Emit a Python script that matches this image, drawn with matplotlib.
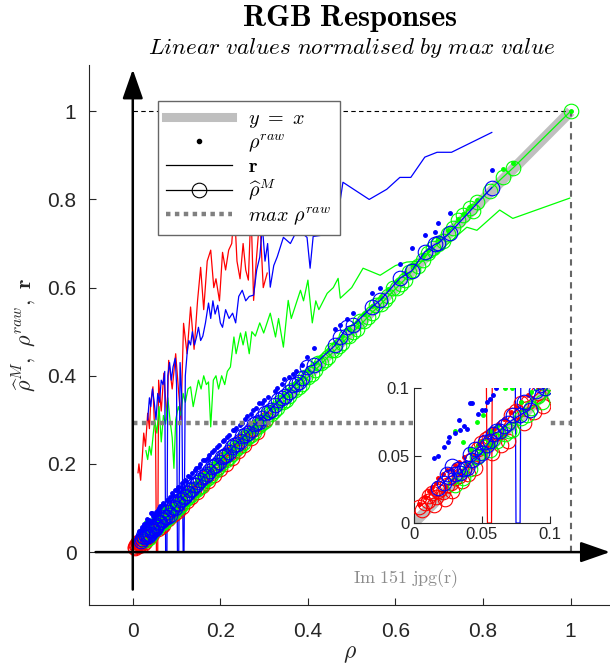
import numpy as np
import matplotlib.pyplot as plt
from matplotlib.lines import Line2D

plt.rcParams['mathtext.fontset'] = 'cm'
plt.rcParams['font.family'] = ['Liberation Sans', 'DejaVu Sans']

# --- red channel: rho, rho-hat (circles), rho-raw (dots) ---
red_rho = [0.004, 0.008, 0.011, 0.013, 0.016, 0.018, 0.021, 0.024, 0.027, 0.030, 0.033, 0.037,
           0.042, 0.047, 0.049, 0.053, 0.055, 0.059, 0.062, 0.066, 0.071, 0.075, 0.079, 0.084,
           0.091, 0.099, 0.107, 0.118, 0.128, 0.140, 0.153, 0.166, 0.179, 0.193, 0.206, 0.219,
           0.233, 0.247, 0.262, 0.277, 0.291, 0.305]
red_hat = [0.012, 0.015, 0.020, 0.022, 0.019, 0.024, 0.023, 0.028, 0.030, 0.033, 0.035, 0.040,
           0.047, 0.055, 0.059, 0.062, 0.064, 0.066, 0.067, 0.072, 0.080, 0.083, 0.089, 0.090,
           0.096, 0.104, 0.110, 0.121, 0.130, 0.142, 0.151, 0.168, 0.180, 0.190, 0.208, 0.222,
           0.231, 0.250, 0.260, 0.279, 0.290, 0.302]
red_raw = [0.014, 0.019, 0.024, 0.027, 0.030, 0.033, 0.036, 0.039, 0.040, 0.043, 0.045, 0.049,
           0.054, 0.058, 0.061, 0.064, 0.067, 0.070, 0.073, 0.077, 0.082, 0.086, 0.090, 0.095,
           0.101, 0.109, 0.117, 0.128, 0.138, 0.150, 0.162, 0.176, 0.188, 0.202, 0.215, 0.228,
           0.242, 0.256, 0.271, 0.286, 0.300, 0.314]
# further red circles hidden in the dense band
red_more_x = [0.006, 0.010, 0.015, 0.019, 0.023, 0.028, 0.035, 0.040, 0.045, 0.057, 0.064, 0.069,
              0.081, 0.088, 0.095, 0.103, 0.112, 0.123, 0.134, 0.146, 0.159, 0.172, 0.186, 0.199,
              0.212, 0.226, 0.240, 0.255, 0.269, 0.284]
red_more_y = [0.010, 0.016, 0.013, 0.025, 0.018, 0.024, 0.031, 0.036, 0.041, 0.052, 0.058, 0.061,
              0.074, 0.082, 0.087, 0.094, 0.103, 0.115, 0.125, 0.136, 0.150, 0.162, 0.176, 0.189,
              0.200, 0.214, 0.229, 0.244, 0.258, 0.272]
# red r line
red_r_x = [0.012, 0.014, 0.018, 0.022, 0.025, 0.029, 0.034, 0.038, 0.041, 0.046, 0.049, 0.052,
           0.054, 0.057, 0.059, 0.065, 0.071, 0.078, 0.082, 0.090, 0.098, 0.105, 0.110, 0.116,
           0.124, 0.132, 0.140, 0.148, 0.155, 0.162, 0.170, 0.178, 0.185, 0.190, 0.198, 0.205,
           0.212, 0.219, 0.226, 0.232, 0.238, 0.245, 0.252, 0.258, 0.264, 0.270, 0.276, 0.282,
           0.290, 0.298, 0.307]
red_r_y = [0.18, 0.20, 0.163, 0.22, 0.27, 0.24, 0.315, 0.28, 0.34, 0.375, 0.30, 0.27,
           0.0, 0.0, 0.39, 0.32, 0.406, 0.30, 0.435, 0.37, 0.45, 0.36, 0.30, 0.519,
           0.45, 0.556, 0.46, 0.571, 0.646, 0.55, 0.66, 0.685, 0.60, 0.62, 0.57, 0.68,
           0.64, 0.685, 0.70, 0.78, 0.66, 0.62, 0.70, 0.64, 0.617, 0.78, 0.571, 0.66,
           0.76, 0.60, 0.633]

# --- green channel ---
green_rho = [0.030, 0.036, 0.041, 0.046, 0.051, 0.056, 0.061, 0.067, 0.072, 0.079, 0.086, 0.094,
             0.103, 0.113, 0.122, 0.133, 0.144, 0.155, 0.166, 0.178, 0.190, 0.201, 0.213, 0.226,
             0.238, 0.251, 0.263, 0.276, 0.289, 0.302, 0.316, 0.330, 0.343, 0.357, 0.371, 0.386,
             0.401, 0.416, 0.431, 0.447, 0.463, 0.478, 0.494, 0.511, 0.528, 0.546, 0.566, 0.584,
             0.603, 0.621, 0.640, 0.663, 0.674, 0.698, 0.719, 0.743, 0.754, 0.770, 0.786, 0.845,
             0.868, 1.000]
green_hat = [0.028, 0.033, 0.040, 0.049, 0.056, 0.054, 0.061, 0.066, 0.069, 0.078, 0.085, 0.090,
             0.101, 0.110, 0.121, 0.130, 0.142, 0.151, 0.164, 0.175, 0.186, 0.199, 0.210, 0.222,
             0.236, 0.247, 0.261, 0.272, 0.286, 0.298, 0.313, 0.326, 0.340, 0.353, 0.368, 0.382,
             0.398, 0.412, 0.428, 0.443, 0.459, 0.475, 0.490, 0.507, 0.524, 0.543, 0.562, 0.581,
             0.600, 0.618, 0.640, 0.662, 0.678, 0.700, 0.722, 0.753, 0.764, 0.780, 0.794, 0.850,
             0.871, 1.000]
green_raw = [0.068, 0.060, 0.055, 0.075, 0.080, 0.068, 0.072, 0.100, 0.100, 0.090, 0.097, 0.104,
             0.114, 0.124, 0.134, 0.145, 0.156, 0.167, 0.178, 0.190, 0.202, 0.214, 0.226, 0.238,
             0.250, 0.263, 0.275, 0.288, 0.301, 0.314, 0.328, 0.342, 0.355, 0.369, 0.383, 0.398,
             0.413, 0.428, 0.443, 0.459, 0.475, 0.490, 0.506, 0.523, 0.540, 0.558, 0.578, 0.596,
             0.615, 0.633, 0.652, 0.675, 0.686, 0.710, 0.731, 0.755, 0.766, 0.782, 0.798, 0.868,
             0.882, 1.000]
green_more_x = [0.048, 0.058, 0.070, 0.083, 0.091, 0.099, 0.108, 0.117, 0.127, 0.138, 0.149, 0.160,
                0.172, 0.184, 0.195, 0.207, 0.219, 0.232, 0.244, 0.257, 0.270, 0.283, 0.296, 0.309,
                0.323, 0.337, 0.350, 0.364, 0.379, 0.394, 0.409, 0.424, 0.439, 0.455, 0.471, 0.486,
                0.503, 0.520, 0.537, 0.556, 0.575, 0.594, 0.612, 0.631, 0.652, 0.686, 0.709, 0.731,
                0.778, 0.815]
green_more_y = [0.052, 0.062, 0.068, 0.080, 0.094, 0.104, 0.105, 0.121, 0.124, 0.141, 0.146, 0.164,
                0.169, 0.188, 0.192, 0.211, 0.216, 0.236, 0.241, 0.261, 0.266, 0.287, 0.292, 0.313,
                0.319, 0.341, 0.346, 0.368, 0.375, 0.398, 0.405, 0.428, 0.435, 0.459, 0.467, 0.490,
                0.499, 0.524, 0.533, 0.560, 0.571, 0.598, 0.608, 0.635, 0.648, 0.690, 0.705, 0.735,
                0.774, 0.819]
green_r_x = [0.030, 0.034, 0.038, 0.042, 0.046, 0.050, 0.055, 0.060, 0.065, 0.070, 0.075, 0.080,
             0.085, 0.090, 0.094, 0.098, 0.104, 0.110, 0.115, 0.120, 0.126, 0.132, 0.138, 0.144,
             0.150, 0.156, 0.162, 0.168, 0.173, 0.178, 0.184, 0.190, 0.196, 0.203, 0.210, 0.216,
             0.223, 0.231, 0.236, 0.246, 0.252, 0.258, 0.266, 0.272, 0.280, 0.290, 0.299, 0.314,
             0.326, 0.333, 0.344, 0.355, 0.362, 0.383, 0.390, 0.400, 0.410, 0.418, 0.425, 0.444,
             0.458, 0.469, 0.474, 0.500, 0.526, 0.565, 0.600, 0.626, 0.660, 0.686, 0.720, 0.763,
             0.786, 0.838, 0.868, 0.998]
green_r_y = [0.23, 0.21, 0.24, 0.22, 0.26, 0.30, 0.27, 0.33, 0.25, 0.31, 0.29, 0.35,
             0.30, 0.26, 0.19, 0.30, 0.33, 0.31, 0.36, 0.34, 0.37, 0.375, 0.33, 0.36,
             0.39, 0.37, 0.40, 0.38, 0.386, 0.284, 0.39, 0.40, 0.37, 0.40, 0.38, 0.41,
             0.42, 0.488, 0.45, 0.497, 0.47, 0.50, 0.45, 0.50, 0.49, 0.52, 0.497, 0.542,
             0.488, 0.53, 0.465, 0.571, 0.53, 0.594, 0.57, 0.617, 0.52, 0.57, 0.55, 0.587,
             0.60, 0.621, 0.576, 0.60, 0.644, 0.628, 0.65, 0.658, 0.66, 0.669, 0.70, 0.737,
             0.73, 0.776, 0.757, 0.803]

# --- blue channel ---
blue_rho = [0.018, 0.022, 0.026, 0.030, 0.034, 0.037, 0.039, 0.043, 0.047, 0.050, 0.054, 0.056,
            0.058, 0.063, 0.069, 0.078, 0.085, 0.090, 0.096, 0.104, 0.112, 0.119, 0.127, 0.135,
            0.145, 0.154, 0.164, 0.175, 0.186, 0.197, 0.209, 0.220, 0.232, 0.244, 0.257, 0.269,
            0.282, 0.295, 0.309, 0.324, 0.340, 0.356, 0.372, 0.386, 0.398, 0.413, 0.462, 0.474,
            0.489, 0.504, 0.546, 0.565, 0.610, 0.637, 0.667, 0.690, 0.698, 0.724, 0.820]
blue_hat = [0.026, 0.030, 0.034, 0.036, 0.037, 0.040, 0.041, 0.047, 0.050, 0.052, 0.058, 0.061,
            0.066, 0.068, 0.074, 0.080, 0.084, 0.098, 0.100, 0.112, 0.120, 0.128, 0.134, 0.144,
            0.152, 0.163, 0.172, 0.184, 0.196, 0.205, 0.219, 0.228, 0.242, 0.253, 0.266, 0.278,
            0.292, 0.304, 0.318, 0.334, 0.350, 0.364, 0.382, 0.395, 0.420, 0.424, 0.469, 0.488,
            0.511, 0.515, 0.556, 0.571, 0.621, 0.638, 0.681, 0.698, 0.701, 0.724, 0.827]
blue_raw = [0.050, 0.056, 0.064, 0.067, 0.069, 0.072, 0.070, 0.089, 0.081, 0.084, 0.090, 0.092,
            0.095, 0.104, 0.110, 0.119, 0.126, 0.134, 0.140, 0.148, 0.156, 0.164, 0.172, 0.180,
            0.190, 0.199, 0.209, 0.220, 0.231, 0.242, 0.254, 0.265, 0.277, 0.289, 0.302, 0.314,
            0.327, 0.338, 0.352, 0.366, 0.382, 0.398, 0.410, 0.424, 0.443, 0.463, 0.506, 0.515,
            0.528, 0.542, 0.587, 0.599, 0.653, 0.689, 0.719, 0.727, 0.746, 0.769, 0.866]
blue_more_x = [0.024, 0.028, 0.032, 0.041, 0.045, 0.052, 0.060, 0.066, 0.073, 0.081, 0.093, 0.100,
               0.108, 0.116, 0.123, 0.131, 0.140, 0.150, 0.159, 0.169, 0.180, 0.191, 0.203, 0.214,
               0.226, 0.238, 0.250, 0.263, 0.276, 0.289, 0.302, 0.316, 0.332, 0.348, 0.364, 0.380]
blue_more_y = [0.036, 0.042, 0.040, 0.051, 0.055, 0.060, 0.068, 0.072, 0.080, 0.090, 0.102, 0.108,
               0.119, 0.124, 0.135, 0.140, 0.152, 0.158, 0.171, 0.177, 0.193, 0.198, 0.216, 0.221,
               0.239, 0.245, 0.263, 0.270, 0.290, 0.296, 0.316, 0.322, 0.346, 0.354, 0.378, 0.386]
blue_raw_more_x = [0.015, 0.025, 0.033, 0.041, 0.052, 0.060, 0.070, 0.080, 0.092, 0.101, 0.110,
                   0.122, 0.131, 0.141, 0.152, 0.160, 0.172, 0.181, 0.192, 0.205, 0.216, 0.228,
                   0.236, 0.250, 0.262, 0.275, 0.288, 0.300, 0.330, 0.345, 0.365]
blue_raw_more_y = [0.048, 0.060, 0.076, 0.089, 0.084, 0.100, 0.112, 0.118, 0.130, 0.142, 0.147,
                   0.161, 0.170, 0.186, 0.192, 0.209, 0.214, 0.226, 0.238, 0.252, 0.261, 0.277,
                   0.282, 0.292, 0.309, 0.322, 0.338, 0.346, 0.372, 0.392, 0.405]
blue_r_x = [0.034, 0.038, 0.041, 0.045, 0.049, 0.053, 0.057, 0.061, 0.065, 0.069, 0.073, 0.075,
            0.078, 0.080, 0.084, 0.088, 0.092, 0.097, 0.100, 0.102, 0.105, 0.108, 0.112, 0.115,
            0.117, 0.120, 0.124, 0.128, 0.132, 0.136, 0.141, 0.146, 0.150, 0.155, 0.160, 0.166,
            0.173, 0.178, 0.183, 0.188, 0.194, 0.200, 0.205, 0.212, 0.220, 0.228, 0.235, 0.242,
            0.250, 0.258, 0.266, 0.276, 0.283, 0.290, 0.296, 0.302, 0.308, 0.314, 0.322, 0.330,
            0.344, 0.360, 0.375, 0.387, 0.398, 0.405, 0.412, 0.440, 0.462, 0.480, 0.540, 0.580,
            0.610, 0.635, 0.667, 0.695, 0.728, 0.820]
blue_r_y = [0.30, 0.35, 0.33, 0.37, 0.34, 0.30, 0.36, 0.34, 0.39, 0.38, 0.41, 0.0,
            0.0, 0.40, 0.43, 0.39, 0.42, 0.44, 0.38, 0.0, 0.0, 0.43, 0.35, 0.0,
            0.0, 0.40, 0.45, 0.48, 0.47, 0.50, 0.47, 0.49, 0.51, 0.48, 0.49, 0.52,
            0.565, 0.53, 0.57, 0.54, 0.56, 0.52, 0.51, 0.55, 0.53, 0.542, 0.52, 0.58,
            0.594, 0.57, 0.58, 0.583, 0.64, 0.669, 0.74, 0.66, 0.70, 0.601, 0.65, 0.67,
            0.714, 0.70, 0.73, 0.723, 0.714, 0.644, 0.716, 0.72, 0.72, 0.839, 0.80, 0.823,
            0.85, 0.85, 0.896, 0.907, 0.907, 0.952]

max_raw = 0.2925

channels = [
    dict(rho=red_rho, hat=red_hat, raw=red_raw, mx=red_more_x, my=red_more_y,
         rx=red_r_x, ry=red_r_y, dx=[], dy=[], c=(1, 0, 0)),
    dict(rho=green_rho, hat=green_hat, raw=green_raw, mx=green_more_x, my=green_more_y,
         rx=green_r_x, ry=green_r_y, dx=[], dy=[], c=(0, 1, 0)),
    dict(rho=blue_rho, hat=blue_hat, raw=blue_raw, mx=blue_more_x, my=blue_more_y,
         rx=blue_r_x, ry=blue_r_y, dx=blue_raw_more_x, dy=blue_raw_more_y, c=(0, 0, 1)),
]

grey_line = (0.75, 0.75, 0.75)
grey_dot = (0.5, 0.5, 0.5)
axis_col = (0.15, 0.15, 0.15)
CIRC = 10.5


def draw_content(a):
    a.plot([0, 1], [0, 1], color=grey_line, lw=7.5, solid_capstyle='butt', zorder=1)
    for ch in channels:
        a.plot(ch['rx'], ch['ry'], color=ch['c'], lw=0.9, zorder=2)
    for ch in channels:
        c = ch['c']
        a.plot(ch['rho'], ch['raw'], ls='none', marker='.', color=c, ms=5, zorder=3)
        a.plot(ch['dx'], ch['dy'], ls='none', marker='.', color=c, ms=5, zorder=3)
        a.plot(ch['mx'], ch['my'], ls='none', marker='o', color=c, mfc='none', ms=CIRC,
               mew=0.8, zorder=3)
        a.plot(ch['rho'], ch['hat'], '-o', color=c, mfc='none', ms=CIRC, mew=0.8, lw=0.9,
               zorder=3)
    a.plot([0, 1], [max_raw, max_raw], color=grey_dot, lw=3.2, ls=(0, (1, 1)), zorder=4)


def style_axes(a, size):
    for s in ['top', 'right']:
        a.spines[s].set_visible(False)
    for s in ['left', 'bottom']:
        a.spines[s].set_color(axis_col)
        a.spines[s].set_linewidth(0.8)
    a.tick_params(direction='in', length=5, width=0.8, colors=axis_col, labelsize=size)


fig = plt.figure(figsize=(6.1, 6.71), dpi=100)
ax = fig.add_axes([89 / 610, 66 / 671, 521 / 610, 540 / 671])
ax.set_xlim(-0.1, 1.09)
ax.set_ylim(-0.12, 1.105)

draw_content(ax)
ax.plot([0, 1], [1, 1], color='k', lw=0.8, dashes=(4, 3), zorder=1.5)
ax.plot([1, 1], [0, 1], color=(0.4, 0.4, 0.4), lw=1.5, dashes=(3, 2.5), zorder=1.5)

arrow = dict(arrowstyle='-|>,head_length=1.0,head_width=0.35', lw=1.8, color='k',
             shrinkA=0, shrinkB=0, mutation_scale=18)
ax.annotate('', xy=(0, 1.095), xytext=(0, -0.085), arrowprops=arrow, zorder=6)
ax.annotate('', xy=(1.09, 0), xytext=(-0.085, 0), arrowprops=arrow, zorder=6)

ax.text(0.622, -0.061, r'$\mathrm{Im\ 151\ jpg(r)}$', color=(0.55, 0.55, 0.55),
        fontsize=13, ha='center', va='center')

ticks = [0, 0.2, 0.4, 0.6, 0.8, 1]
tick_labels = ['0', '0.2', '0.4', '0.6', '0.8', '1']
ax.set_xticks(ticks)
ax.set_xticklabels(tick_labels)
ax.set_yticks(ticks)
ax.set_yticklabels(tick_labels)
style_axes(ax, 15)
ax.tick_params(axis='x', pad=12)
ax.tick_params(axis='y', pad=9)

ax.set_xlabel(r'$\rho$', fontsize=17, color=axis_col)
ax.xaxis.set_label_coords(0.5, -0.07)
ax.set_ylabel(r'$\widehat{\rho}^M,\ \rho^{raw},\ \mathbf{r}$', fontsize=16, color=axis_col)
ax.yaxis.set_label_coords(-0.097, 0.5)

handles = [
    Line2D([], [], color=grey_line, lw=6.5),
    Line2D([], [], ls='none', marker='.', color='k', ms=6),
    Line2D([], [], color='k', lw=0.9),
    Line2D([], [], color='k', lw=0.9, marker='o', mfc='none', ms=CIRC, mew=0.8),
    Line2D([], [], color=grey_dot, lw=3.2, ls=(0, (1, 1))),
]
labels = [r'$y\ =\ x$', r'$\rho^{raw}$', r'$\mathbf{r}$', r'$\widehat{\rho}^{M}$',
          r'$max\ \rho^{raw}$']
leg = ax.legend(handles, labels, loc='upper left', bbox_to_anchor=(0.132, 0.933),
                borderaxespad=0, fontsize=14.5, handlelength=3.3, labelspacing=0.12,
                fancybox=False, framealpha=1, edgecolor=(0.4, 0.4, 0.4))
leg.get_frame().set_linewidth(1.0)
leg.set_zorder(10)

# inset
ins = fig.add_axes([414 / 610, (671 - 523) / 671, 136 / 610, 135 / 671])
ins.set_zorder(5)
draw_content(ins)
ins.set_xlim(0, 0.1)
ins.set_ylim(0, 0.1)
ins.set_xticks([0, 0.05, 0.1])
ins.set_xticklabels(['0', '0.05', '0.1'])
ins.set_yticks([0, 0.05, 0.1])
ins.set_yticklabels(['0', '0.05', '0.1'])
style_axes(ins, 12)
ins.tick_params(pad=3)

fig.text(0.574, 0.972, r'$\mathbf{RGB\ Responses}$', ha='center', va='center', fontsize=22)
fig.text(0.577, 0.928, r'$\mathit{Linear\ values\ normalised\ by\ max\ value}$',
         ha='center', va='center', fontsize=16.6)

fig.savefig('out.png', dpi=100)
